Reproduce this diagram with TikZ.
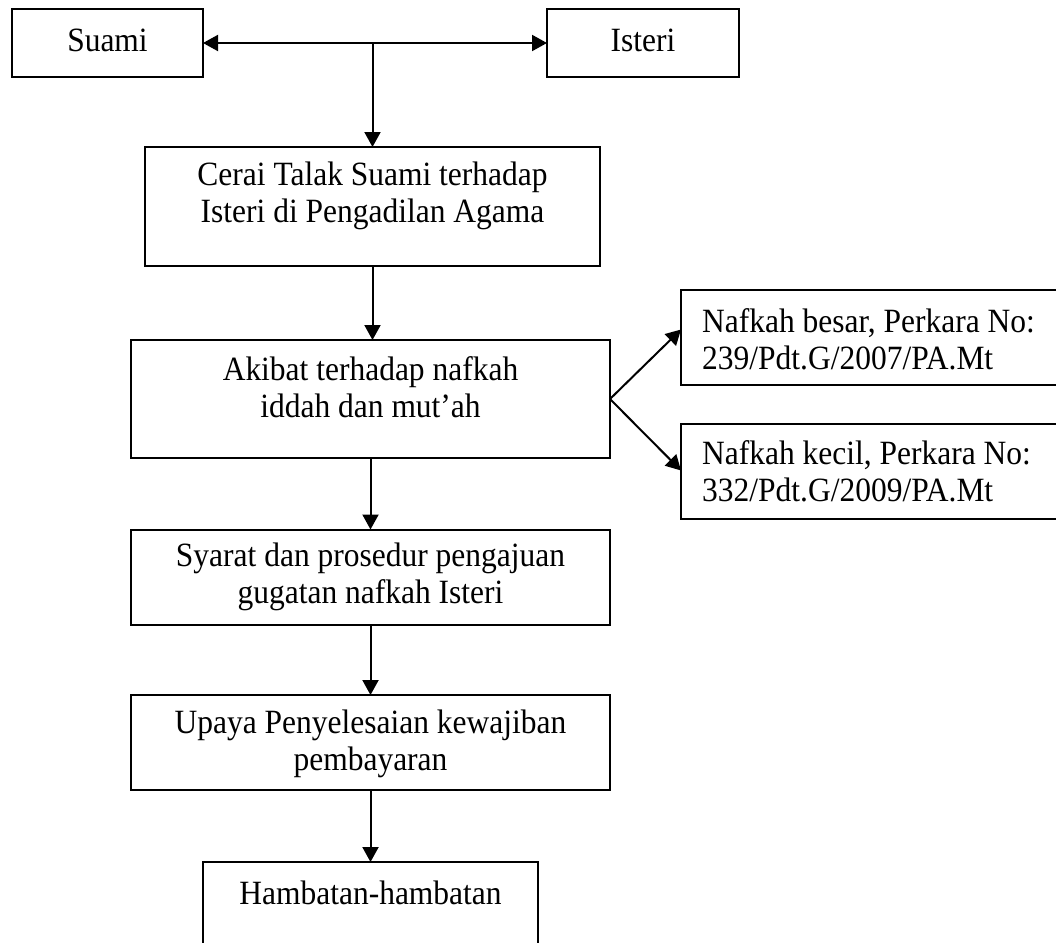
\documentclass[tikz,border=0pt]{standalone}
\usepackage{fontspec}
\setmainfont{Liberation Serif}[FakeStretch=0.926]
\usetikzlibrary{arrows.meta}
\tikzset{
  >={Triangle[length=15pt,width=16pt]},
  box/.style={draw, line width=2pt, inner sep=0pt, outer sep=0pt},
  txt/.style={font=\fontsize{34}{37}\selectfont, align=center, inner sep=0pt},
  ltxt/.style={txt, align=left, anchor=west},
  arr/.style={line width=2pt, ->},
}
\begin{document}
\begin{tikzpicture}[x=1pt,y=-1pt]
\useasboundingbox (0,0) rectangle (1056,942);
\clip (0,0) rectangle (1056,942);
% boxes
\node[box, minimum width=191pt, minimum height=68pt] (suami) at (107.5,43) {};
\node[box, minimum width=192pt, minimum height=68pt] (isteri) at (643,43) {};
\node[box, minimum width=455pt, minimum height=119pt] (cerai) at (372.5,206.5) {};
\node[box, minimum width=479pt, minimum height=118pt] (akibat) at (370.5,399) {};
\node[box, minimum width=389pt, minimum height=95pt] (besar) at (875.5,337.5) {};
\node[box, minimum width=389pt, minimum height=95pt] (kecil) at (875.5,471.5) {};
\node[box, minimum width=479pt, minimum height=95pt] (syarat) at (370.5,577) {};
\node[box, minimum width=479pt, minimum height=95pt] (upaya) at (370.5,742.5) {};
\node[box, minimum width=335pt, minimum height=108pt] (hambatan) at (370.5,916) {};
% texts
\node[txt] (tsuami) at (107.5,40) {Suami};
\node[txt] (tisteri) at (643,40) {Isteri};
\node[txt] (tcerai) at (372.5,196) {Cerai Talak Suami terhadap\\Isteri di Pengadilan Agama};
\node[txt] (takibat) at (370.5,387) {Akibat terhadap nafkah\\iddah dan mut’ah};
\node[ltxt] (tbesar) at (702,339) {Nafkah besar, Perkara No:\\239/Pdt.G/2007/PA.Mt};
\node[ltxt] (tkecil) at (702,471) {Nafkah kecil, Perkara No:\\332/Pdt.G/2009/PA.Mt};
\node[txt] (tsyarat) at (370.5,577) {Syarat dan prosedur pengajuan\\gugatan nafkah Isteri};
\node[txt] (tupaya) at (370.5,744) {Upaya Penyelesaian kewajiban\\pembayaran};
\node[txt] (thambatan) at (370.5,893) {Hambatan-hambatan};
% connectors
\coordinate (j) at (cerai.north |- suami.east);
\draw[line width=2pt, <->] (suami.east) -- (isteri.west);
\draw[arr] (j) -- (cerai.north);
\draw[arr] (cerai.south) -- (cerai.south |- akibat.north);
\draw[arr] (akibat.east) -- ([yshift=8pt]besar.west);
\draw[arr] (akibat.east) -- ([yshift=1pt]kecil.west);
\draw[arr] (akibat.south) -- (syarat.north);
\draw[arr] (syarat.south) -- (upaya.north);
\draw[arr] (upaya.south) -- (hambatan.north);
\end{tikzpicture}
\end{document}
